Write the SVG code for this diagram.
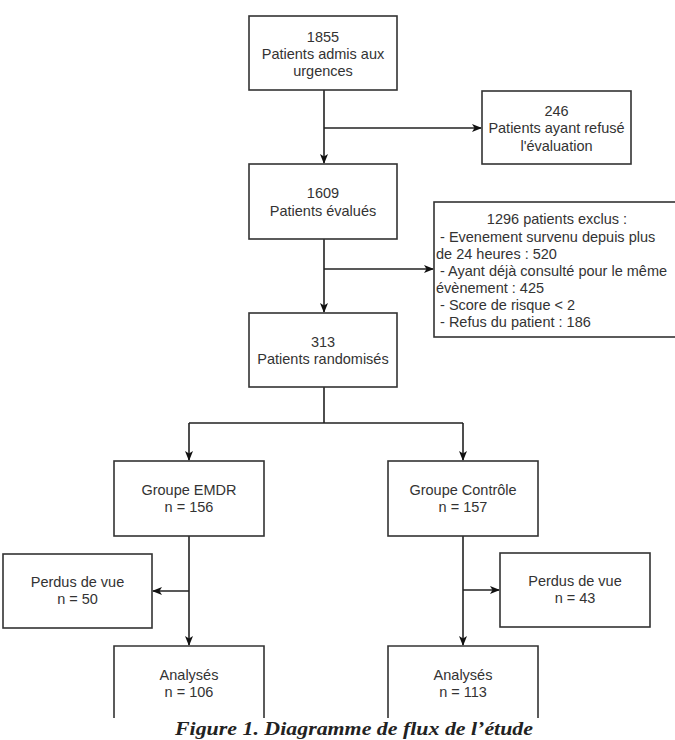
<svg xmlns="http://www.w3.org/2000/svg" width="675" height="740" viewBox="0 0 675 740">
<defs>
<style>
.box{fill:#fff;stroke:#333;stroke-width:1.6}
.t{font-family:"Liberation Sans",Arial,sans-serif;font-size:14.5px;fill:#333;text-anchor:middle}
.l{font-family:"Liberation Sans",Arial,sans-serif;font-size:14.5px;fill:#333}
.c{fill:none;stroke:#222;stroke-width:1.6}
.cap{font-family:"Liberation Serif","Times New Roman",serif;font-size:18px;font-weight:bold;font-style:italic;fill:#222;text-anchor:middle}
</style>
<marker id="arr" viewBox="0 0 10 8" refX="9" refY="4" markerWidth="10" markerHeight="8" markerUnits="userSpaceOnUse" orient="auto">
<path d="M0,0 L10,4 L0,8 L2.5,4 Z" fill="#111"/>
</marker>
</defs>
<rect width="675" height="740" fill="#fff"/>
<g id="connectors">
<path class="c" d="M324,90 V163" marker-end="url(#arr)"/>
<path class="c" d="M324,128 H481" marker-end="url(#arr)"/>
<path class="c" d="M324,239 V312" marker-end="url(#arr)"/>
<path class="c" d="M324,269 H433" marker-end="url(#arr)"/>
<path class="c" d="M324,387 V423 M189,423 H463"/>
<path class="c" d="M189,423 V460" marker-end="url(#arr)"/>
<path class="c" d="M463,423 V460" marker-end="url(#arr)"/>
<path class="c" d="M189,536 V645" marker-end="url(#arr)"/>
<path class="c" d="M189,591 H153" marker-end="url(#arr)"/>
<path class="c" d="M463,536 V645" marker-end="url(#arr)"/>
<path class="c" d="M463,590 H499" marker-end="url(#arr)"/>
</g>
<g id="n1855">
<rect class="box" x="249" y="16" width="148" height="74"/>
<text class="t" x="323" y="42">1855</text>
<text class="t" x="323" y="59">Patients admis aux</text>
<text class="t" x="323" y="76">urgences</text>
</g>
<g id="n246">
<rect class="box" x="482" y="91" width="149" height="73"/>
<text class="t" x="556.5" y="116">246</text>
<text class="t" x="556.5" y="133">Patients ayant refusé</text>
<text class="t" x="556.5" y="151">l'évaluation</text>
</g>
<g id="n1609">
<rect class="box" x="249" y="164" width="148" height="75"/>
<text class="t" x="323" y="198">1609</text>
<text class="t" x="323" y="216">Patients évalués</text>
</g>
<g id="nexclus">
<rect class="box" x="434" y="202" width="250" height="135"/>
<text class="t" x="557" y="224">1296 patients exclus :</text>
<text class="l" x="436" y="241.5" xml:space="preserve"> - Evenement survenu depuis plus</text>
<text class="l" x="436" y="258.5">de 24 heures : 520</text>
<text class="l" x="436" y="275.5" xml:space="preserve"> - Ayant déjà consulté pour le même</text>
<text class="l" x="436" y="292.5">évènement : 425</text>
<text class="l" x="436" y="310" xml:space="preserve"> - Score de risque &lt; 2</text>
<text class="l" x="436" y="327" xml:space="preserve"> - Refus du patient : 186</text>
</g>
<g id="n313">
<rect class="box" x="249" y="313" width="148" height="74"/>
<text class="t" x="323" y="347">313</text>
<text class="t" x="323" y="364">Patients randomisés</text>
</g>
<g id="nemdr">
<rect class="box" x="114" y="461" width="150" height="75"/>
<text class="t" x="189" y="495">Groupe EMDR</text>
<text class="t" x="189" y="512">n = 156</text>
</g>
<g id="ncontrole">
<rect class="box" x="388" y="461" width="150" height="75"/>
<text class="t" x="463" y="495">Groupe Contrôle</text>
<text class="t" x="463" y="512">n = 157</text>
</g>
<g id="nperdus1">
<rect class="box" x="3" y="554" width="149" height="74"/>
<text class="t" x="77.5" y="587">Perdus de vue</text>
<text class="t" x="77.5" y="604">n = 50</text>
</g>
<g id="nperdus2">
<rect class="box" x="500" y="553" width="150" height="74"/>
<text class="t" x="575" y="586">Perdus de vue</text>
<text class="t" x="575" y="603">n = 43</text>
</g>
<g id="nanalyses1">
<path class="box" d="M114,718 V646 H264 V718"/>
<text class="t" x="189" y="680">Analysés</text>
<text class="t" x="189" y="697">n = 106</text>
</g>
<g id="nanalyses2">
<path class="box" d="M388,718 V646 H538 V718"/>
<text class="t" x="463" y="680">Analysés</text>
<text class="t" x="463" y="697">n = 113</text>
</g>
<text class="cap" x="354" y="735" textLength="358" lengthAdjust="spacingAndGlyphs">Figure 1. Diagramme de flux de l’étude</text>
</svg>
